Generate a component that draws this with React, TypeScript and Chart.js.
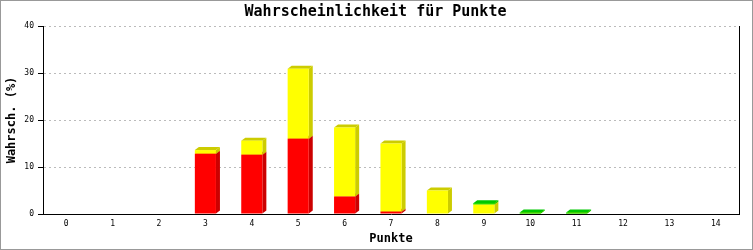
import React, { useEffect, useRef } from "react";
import { Chart, registerables } from "chart.js";

Chart.register(...registerables);

const categories = ["0", "1", "2", "3", "4", "5", "6", "7", "8", "9", "10", "11", "12", "13", "14"];
const redValues = [0, 0, 0, 12.8, 12.6, 16.0, 3.7, 0.5, 0, 0, 0, 0, 0, 0, 0];
const yellowValues = [0, 0, 0, 0.8, 3.0, 14.9, 14.7, 14.5, 5.0, 2.0, 0.1, 0.1, 0, 0, 0];
const greenValues = [0, 0, 0, 0, 0, 0, 0, 0, 0, 0.3, 0.2, 0.2, 0, 0, 0];
const yTicks = [0, 10, 20, 30, 40];

const titleText = "Wahrscheinlichkeit für Punkte";
const xTitle = "Punkte";
const yTitle = "Wahrsch. (%)";

const MONO = "'DejaVu Sans Mono', 'Liberation Mono', monospace";
const DEPTH_X = 4;
const DEPTH_Y = 3;

const sideColors = ["#cc0000", "#cccc00", "#00c800"];

const depthPlugin = {
  id: "depth3d",
  beforeDatasetsDraw(chart: any) {
    const ctx = chart.ctx;
    const n = chart.data.datasets.length;
    const count = chart.data.labels.length;
    for (let i = 0; i < count; i++) {
      for (let d = 0; d < n; d++) {
        const meta = chart.getDatasetMeta(d);
        const el = meta.data[i];
        if (!el) continue;
        const v = chart.data.datasets[d].data[i];
        if (!v) continue;
        const { x, y, base, width } = el.getProps(["x", "y", "base", "width"], true);
        const x1 = x - width / 2;
        const x2 = x + width / 2;
        const top = Math.min(y, base);
        const bot = Math.max(y, base);
        ctx.save();
        ctx.fillStyle = sideColors[d];
        ctx.beginPath();
        ctx.moveTo(x2, bot);
        ctx.lineTo(x2 + DEPTH_X, bot - DEPTH_Y);
        ctx.lineTo(x2 + DEPTH_X, top - DEPTH_Y);
        ctx.lineTo(x2, top);
        ctx.closePath();
        ctx.fill();
        ctx.beginPath();
        ctx.moveTo(x1, top);
        ctx.lineTo(x1 + DEPTH_X, top - DEPTH_Y);
        ctx.lineTo(x2 + DEPTH_X, top - DEPTH_Y);
        ctx.lineTo(x2, top);
        ctx.closePath();
        ctx.fill();
        ctx.restore();
      }
    }
  },
  afterDraw(chart: any) {
    const ctx = chart.ctx;
    const { top, bottom, right } = chart.chartArea;
    ctx.save();
    ctx.strokeStyle = "#000";
    ctx.lineWidth = 1;
    ctx.beginPath();
    ctx.moveTo(Math.round(right) + 0.5, top);
    ctx.lineTo(Math.round(right) + 0.5, bottom);
    ctx.stroke();
    ctx.strokeStyle = "#999";
    ctx.strokeRect(0.5, 0.5, chart.width - 1, chart.height - 1);
    ctx.restore();
  },
};

export default function App() {
  const ref = useRef<HTMLCanvasElement | null>(null);
  useEffect(() => {
    document.body.style.margin = "0";
    const canvas = ref.current;
    if (!canvas) return;
    const chart = new Chart(canvas, {
      type: "bar",
      data: {
        labels: categories,
        datasets: [
          { label: "rot", data: redValues, backgroundColor: "#ff0000", borderWidth: 0 },
          { label: "gelb", data: yellowValues, backgroundColor: "#ffff00", borderWidth: 0 },
          { label: "grün", data: greenValues, backgroundColor: "#00dd00", borderWidth: 0 },
        ],
      },
      options: {
        responsive: false,
        animation: false,
        layout: { padding: { top: 0, right: 14, bottom: 0, left: 12 } },
        datasets: { bar: { barPercentage: 0.455, categoryPercentage: 1 } },
        plugins: {
          legend: { display: false },
          tooltip: { enabled: false },
          title: {
            display: true,
            text: titleText,
            color: "#000",
            font: { family: MONO, size: 15, weight: "bold", lineHeight: 1 },
            padding: { top: 5, bottom: 6 },
          },
        },
        scales: {
          x: {
            stacked: true,
            grid: { display: false, drawTicks: false },
            border: { display: true, color: "#000", width: 1 },
            ticks: {
              color: "#000",
              font: { family: MONO, size: 8 },
              padding: 5,
              autoSkip: false,
              maxRotation: 0,
            },
            title: {
              display: true,
              text: xTitle,
              color: "#000",
              font: { family: MONO, size: 12, weight: "bold" },
              padding: { top: 0, bottom: 4 },
            },
            afterFit(scale: any) {
              scale.height = 36;
            },
          },
          y: {
            stacked: true,
            min: 0,
            max: 40,
            afterBuildTicks(scale: any) {
              scale.ticks = yTicks.map((v) => ({ value: v }));
            },
            grid: {
              color: (c: any) => (c.tick && c.tick.value === 0 ? "rgba(0,0,0,0)" : "#bbbbbb"),
              tickColor: "#000",
              tickLength: 5,
              tickBorderDash: [],
              drawTicks: true,
            },
            border: { display: true, color: "#000", width: 1, dash: [2, 3] },
            ticks: {
              color: "#000",
              font: { family: MONO, size: 8 },
              padding: 4,
            },
            title: {
              display: true,
              text: yTitle,
              color: "#000",
              font: { family: MONO, size: 12, weight: "bold" },
              padding: { top: -7, bottom: 0 },
            },
            afterFit(scale: any) {
              scale.width = 31;
            },
          },
        },
      },
      plugins: [depthPlugin],
    } as any);
    return () => chart.destroy();
  }, []);
  return <canvas ref={ref} width={753} height={250} style={{ display: "block" }} />;
}
